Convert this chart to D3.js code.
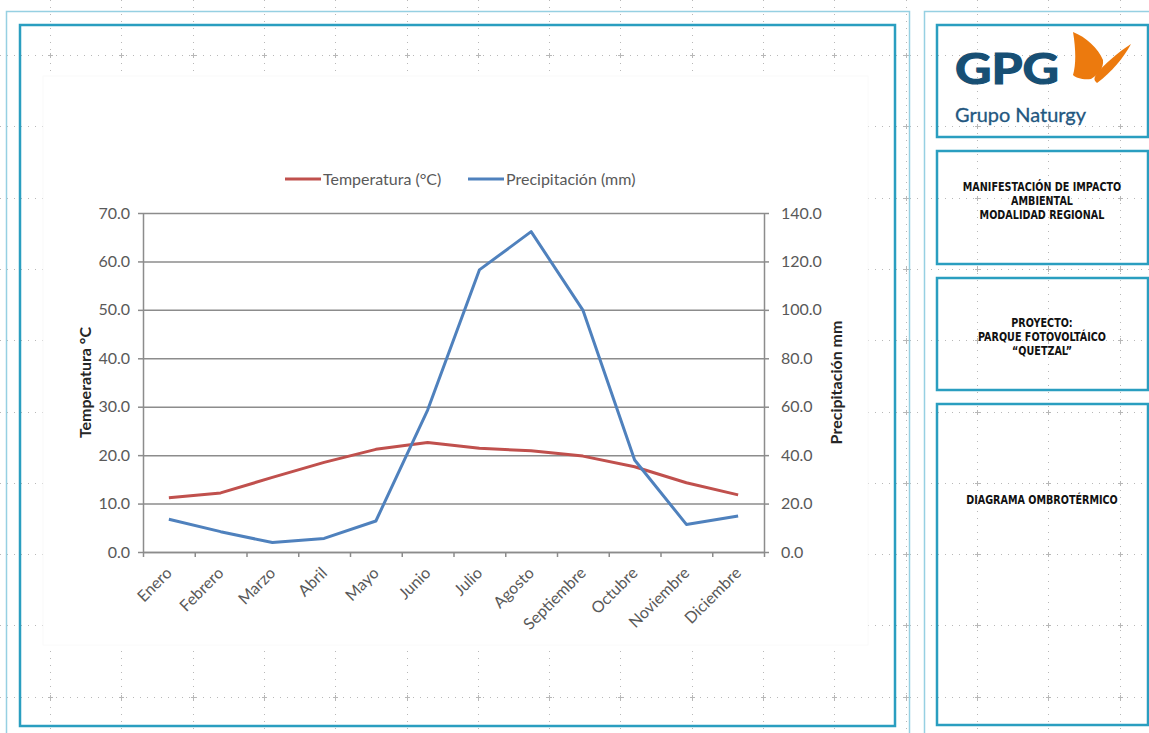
<!DOCTYPE html>
<html>
<head>
<meta charset="utf-8">
<script src="https://cdn.jsdelivr.net/npm/d3@7"></script>
<style>
  body { margin: 0; background: #fff; }
  svg { display: block; }
</style>
</head>
<body>
<div id="vis"></div>
<script>
// chart data
const months = ['Enero', 'Febrero', 'Marzo', 'Abril', 'Mayo', 'Junio', 'Julio', 'Agosto',
    'Septiembre', 'Octubre', 'Noviembre', 'Diciembre']
const temperatura = [11.2, 12.2, 15.4, 18.5, 21.2, 22.6, 21.4, 20.9, 19.8, 17.6, 14.3, 11.8]
const precipitacion = [13.5, 8.4, 3.9, 5.6, 12.8, 58.6, 116.5, 132.3, 99.9, 38.0, 11.4, 14.9]
const tempTicks = [0, 10, 20, 30, 40, 50, 60, 70]
const precTicks = [0, 20, 40, 60, 80, 100, 120, 140]
const seriesNames = ['Temperatura (°C)', 'Precipitación (mm)']
const panelTexts = [
    ['MANIFESTACIÓN DE IMPACTO', 'AMBIENTAL', 'MODALIDAD REGIONAL'],
    ['PROYECTO:', 'PARQUE FOTOVOLTÁICO', '“QUETZAL”'],
    ['DIAGRAMA OMBROTÉRMICO']
]

const W = 1149, H = 733
const red = '#c0504d', blue = '#4f81bd'
const teal = '#2a9ec0', lightTeal = '#96d0e2'
const labelFont = 'Lato, "Open Sans", sans-serif'
const panelFont = '"DejaVu Sans", sans-serif'

const svg = d3.select('#vis').append('svg')
    .attr('width', W)
    .attr('height', H)

// dotted page grid
const gridStep = 71.3
const gx = d3.range(50, W, gridStep)
const gy = d3.range(55, H, gridStep)
const dots = svg.append('g').attr('stroke', '#b8b8b8').attr('stroke-width', 1)
dots.selectAll('.hdot').data(gy).enter().append('line')
    .attr('x1', 0).attr('x2', W)
    .attr('y1', d => Math.round(d) + 0.5).attr('y2', d => Math.round(d) + 0.5)
    .attr('stroke-dasharray', '1,6')
dots.selectAll('.vdot').data(gx).enter().append('line')
    .attr('y1', 0).attr('y2', H)
    .attr('x1', d => Math.round(d) + 0.5).attr('x2', d => Math.round(d) + 0.5)
    .attr('stroke-dasharray', '1,6')
gx.forEach(gxi => {
    dots.selectAll(null).data(gy).enter().append('path')
        .attr('d', d => `M${Math.round(gxi) - 2},${Math.round(d) + 0.5}h5M${Math.round(gxi) + 0.5},${Math.round(d) - 2}v5`)
})

// frames
svg.append('rect').attr('x', 6.5).attr('y', 11.5).attr('width', 903).attr('height', 740)
    .attr('fill', 'none').attr('stroke', lightTeal).attr('stroke-width', 1.5)
svg.append('path').attr('d', 'M924.5,745V11.5H1155')
    .attr('fill', 'none').attr('stroke', lightTeal).attr('stroke-width', 1.5)
svg.append('rect').attr('x', 20).attr('y', 25).attr('width', 875).attr('height', 701)
    .attr('fill', 'none').attr('stroke', teal).attr('stroke-width', 2.5)

// chart area
svg.append('rect').attr('x', 43).attr('y', 76).attr('width', 825).attr('height', 569)
    .attr('fill', '#fff').attr('stroke', '#fafafa')

const plotLeft = 143, plotRight = 764, plotTop = 213, plotBottom = 552

let x = d3.scaleBand().domain(months).range([plotLeft, plotRight])
let xIdx = d3.scaleLinear().domain([0, months.length]).range([plotLeft, plotRight])
let yT = d3.scaleLinear().domain([0, 70]).range([plotBottom, plotTop])
let yP = d3.scaleLinear().domain([0, 140]).range([plotBottom, plotTop])

// horizontal gridlines
svg.append('g')
    .attr('transform', `translate(${plotLeft},0)`)
    .call(d3.axisLeft(yT).tickValues(tempTicks).tickSize(-(plotRight - plotLeft)).tickFormat(''))
    .call(g => g.select('.domain').remove())
    .selectAll('line').attr('stroke', '#8c8c8c').attr('stroke-width', 1.5)

function styleAxis(g) {
    g.selectAll('.domain, line').attr('stroke', '#8c8c8c').attr('stroke-width', 1.5)
    g.selectAll('text').attr('fill', '#595959').style('font-family', labelFont).style('font-size', '16px')
}

svg.append('g')
    .attr('transform', `translate(${plotLeft},0)`)
    .call(d3.axisLeft(yT).tickValues(tempTicks).tickFormat(d3.format('.1f')).tickSize(5).tickSizeOuter(0).tickPadding(8))
    .call(styleAxis)

svg.append('g')
    .attr('transform', `translate(${plotRight},0)`)
    .call(d3.axisRight(yP).tickValues(precTicks).tickFormat(d3.format('.1f')).tickSize(5).tickSizeOuter(0).tickPadding(12))
    .call(styleAxis)

svg.append('g')
    .attr('transform', `translate(0,${plotBottom})`)
    .call(d3.axisBottom(xIdx).tickValues(d3.range(months.length + 1)).tickFormat('').tickSize(5).tickSizeOuter(0))
    .call(styleAxis)

svg.append('g')
    .attr('transform', `translate(0,${plotBottom})`)
    .call(d3.axisBottom(x).tickSize(0).tickPadding(0))
    .call(g => g.select('.domain').remove())
    .call(styleAxis)
    .selectAll('text')
    .attr('text-anchor', 'end')
    .attr('dy', null)
    .attr('transform', 'translate(4,22) rotate(-45)')

// axis titles
svg.append('text')
    .attr('transform', `translate(91,${(plotTop + plotBottom) / 2}) rotate(-90)`)
    .attr('text-anchor', 'middle')
    .style('font-family', labelFont).style('font-size', '16px').style('font-weight', 'bold')
    .attr('fill', '#262626')
    .text('Temperatura °C')
svg.append('text')
    .attr('transform', `translate(842,${(plotTop + plotBottom) / 2}) rotate(-90)`)
    .attr('text-anchor', 'middle')
    .style('font-family', labelFont).style('font-size', '16px').style('font-weight', 'bold')
    .attr('fill', '#262626')
    .text('Precipitación mm')

// series
const cx = d => x(d) + x.bandwidth() / 2
const tempLine = d3.line().x((d, i) => cx(months[i])).y(d => yT(d))
const precLine = d3.line().x((d, i) => cx(months[i])).y(d => yP(d))

svg.append('path').datum(temperatura)
    .attr('fill', 'none').attr('stroke', red).attr('stroke-width', 3)
    .attr('stroke-linejoin', 'round')
    .attr('d', tempLine)
svg.append('path').datum(precipitacion)
    .attr('fill', 'none').attr('stroke', blue).attr('stroke-width', 3)
    .attr('stroke-linejoin', 'round')
    .attr('d', precLine)

// legend
const legendPos = [285, 468]
const legend = svg.append('g')
seriesNames.forEach((name, i) => {
    legend.append('line')
        .attr('x1', legendPos[i]).attr('x2', legendPos[i] + 36)
        .attr('y1', 179).attr('y2', 179)
        .attr('stroke', i === 0 ? red : blue).attr('stroke-width', 3)
    legend.append('text')
        .attr('x', legendPos[i] + 38).attr('y', 185)
        .attr('fill', '#595959')
        .style('font-family', labelFont).style('font-size', '16px')
        .text(name)
})

// right panel
const boxes = [[25, 137], [151, 264], [278, 390], [404, 725]]
boxes.forEach(b => {
    svg.append('rect').attr('x', 937).attr('y', b[0]).attr('width', 211).attr('height', b[1] - b[0])
        .attr('fill', 'none').attr('stroke', teal).attr('stroke-width', 2.5)
})

// logo
svg.append('text').attr('x', 955).attr('y', 84)
    .attr('fill', '#174f74').attr('stroke', '#174f74').attr('stroke-width', 1.2)
    .attr('textLength', 104).attr('lengthAdjust', 'spacingAndGlyphs')
    .style('font-family', 'Lato, sans-serif').style('font-weight', 'bold').style('font-size', '42px')
    .text('GPG')
svg.append('text').attr('x', 955).attr('y', 122)
    .attr('fill', '#23577f').attr('stroke', '#23577f').attr('stroke-width', 0.3)
    .attr('textLength', 131).attr('lengthAdjust', 'spacingAndGlyphs')
    .style('font-family', 'Lato, sans-serif').style('font-size', '20px')
    .text('Grupo Naturgy')
svg.append('path')
    .attr('d', 'M1073,32 C1086,37 1098,48 1103,60 C1104,68 1098,75 1091,79 C1083,80 1076,78 1073,75 C1076,65 1076,50 1073,32 Z')
    .attr('fill', '#ec7a0e')
svg.append('path')
    .attr('d', 'M1131,44 C1124,57 1112,72 1097,83 C1093,80 1094,77 1098,72 C1105,64 1117,53 1131,44 Z')
    .attr('fill', '#ec7a0e')

const panelCenters = [[191, 205, 219], [327, 341, 355], [504]]
panelTexts.forEach((lines, i) => {
    lines.forEach((t, j) => {
        svg.append('text')
            .attr('transform', `translate(1042,${panelCenters[i][j]}) scale(0.74,1)`)
            .attr('text-anchor', 'middle')
            .attr('fill', '#111')
            .style('font-family', panelFont).style('font-weight', 'bold').style('font-size', '13px')
            .text(t)
    })
})
</script>
</body>
</html>
